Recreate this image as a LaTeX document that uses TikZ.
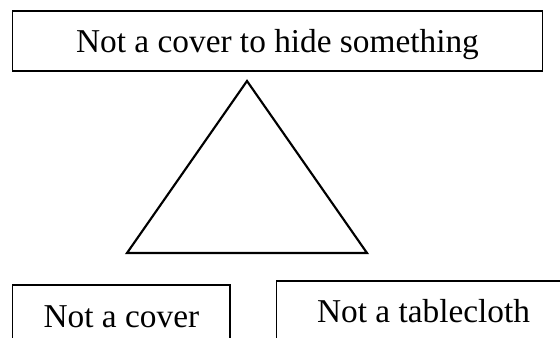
\documentclass[tikz,border=0pt]{standalone}
\usepackage{fontspec}
\setmainfont{Liberation Serif}
\usetikzlibrary{positioning}

\begin{document}
\begin{tikzpicture}[
  x=0.75pt, y=-0.75pt,
  label box/.style={draw, line width=0.9pt, inner sep=0pt, text height=16.5pt, text depth=0pt, font=\fontsize{25}{30}\selectfont},
  tri/.style={draw, line width=1.6pt, line join=miter}
]
\useasboundingbox (0,0) rectangle (560,337);
\node[label box, minimum width=398pt, minimum height=45pt] (hide) at (277.5,41) {Not a cover to hide something};
\draw[tri] (247,81) -- (127,253) -- (367,253) -- cycle;
\node[label box, minimum width=163pt, minimum height=46.5pt] (cover) at (121.4,316) {Not a cover};
\node[label box, minimum width=220pt, minimum height=45pt] (cloth) at (423.5,311) {Not a tablecloth};
\end{tikzpicture}
\end{document}
